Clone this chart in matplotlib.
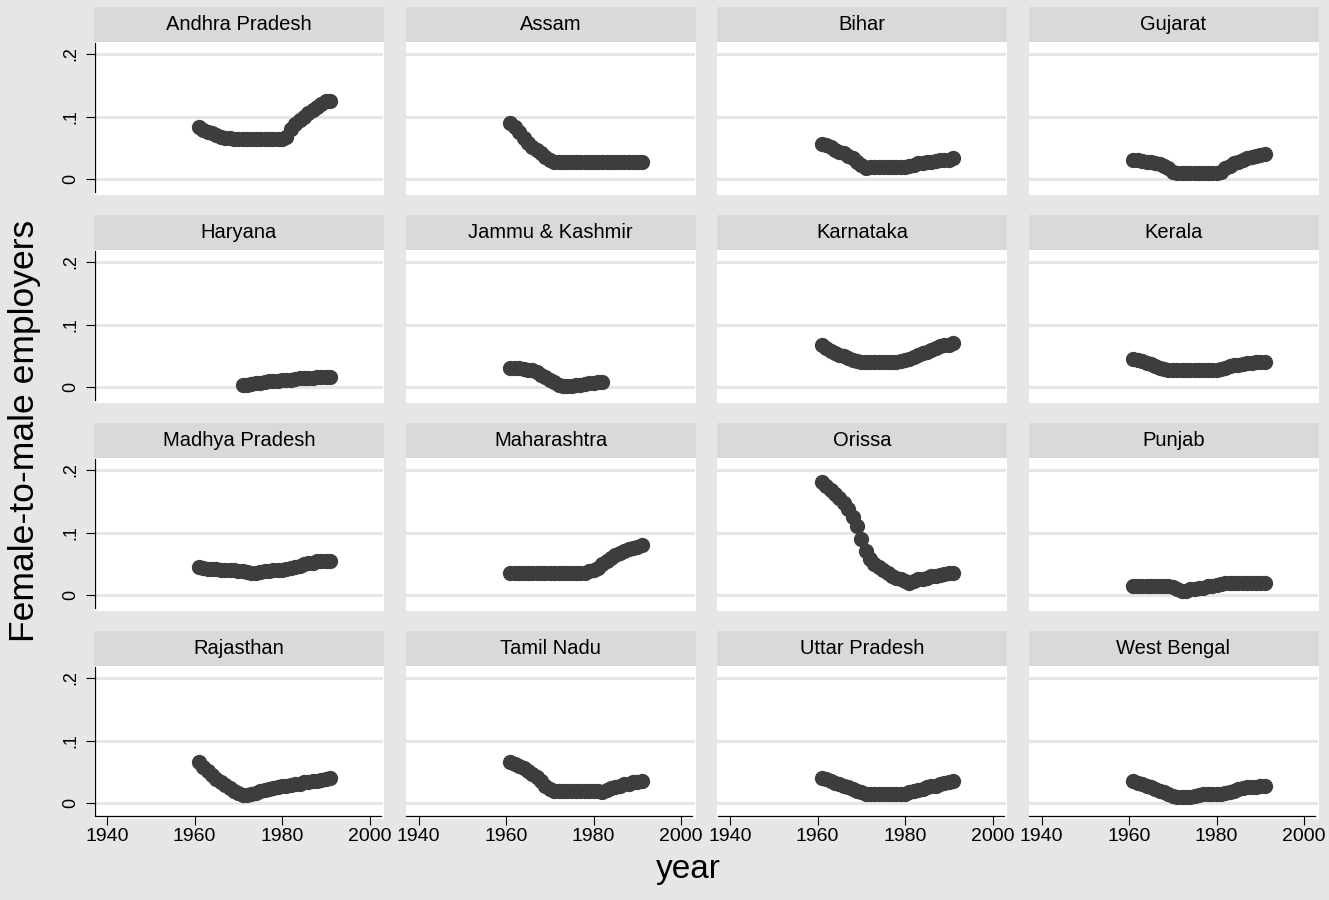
import matplotlib
matplotlib.use("Agg")
import matplotlib.pyplot as plt
from matplotlib.patches import Rectangle

plt.rcParams['font.family'] = ['Liberation Sans', 'DejaVu Sans']

states = ["Andhra Pradesh", "Assam", "Bihar", "Gujarat",
          "Haryana", "Jammu & Kashmir", "Karnataka", "Kerala",
          "Madhya Pradesh", "Maharashtra", "Orissa", "Punjab",
          "Rajasthan", "Tamil Nadu", "Uttar Pradesh", "West Bengal"]

years_full = list(range(1961, 1992))
years_haryana = list(range(1971, 1992))
years_jk = list(range(1961, 1983))

andhra = [.083, .079, .076, .073, .071, .068, .066, .065, .064, .064,
          .064, .064, .064, .064, .064, .064, .064, .064, .064, .064,
          .068, .080, .088, .094, .100, .105, .110, .116, .120, .125, .125]
assam = [.090, .084, .076, .066, .058, .052, .046, .041, .036, .031,
         .027, .027, .027, .027, .027, .027, .027, .027, .027, .027,
         .027, .027, .027, .027, .027, .027, .027, .027, .027, .027, .027]
bihar = [.056, .054, .051, .047, .044, .041, .037, .033, .028, .022,
         .018, .019, .020, .020, .020, .020, .020, .020, .020, .020,
         .021, .023, .025, .026, .027, .028, .029, .030, .030, .031, .033]
gujarat = [.030, .030, .029, .028, .027, .025, .024, .021, .017, .012,
           .009, .009, .009, .009, .009, .009, .009, .009, .009, .009,
           .012, .017, .021, .025, .028, .031, .033, .035, .037, .039, .040]
haryana = [.003, .004, .005, .006, .007, .008, .009, .010, .010, .011,
           .011, .012, .013, .014, .015, .015, .015, .016, .016, .016, .016]
jammu_kashmir = [.031, .030, .030, .029, .028, .027, .024, .020, .016, .012,
                 .008, .004, .002, .002, .002, .003, .004, .005, .006, .007,
                 .008, .008]
karnataka = [.067, .062, .058, .055, .052, .049, .046, .043, .041, .040,
             .040, .040, .040, .040, .040, .040, .040, .040, .041, .043,
             .045, .048, .051, .054, .056, .059, .062, .065, .067, .068, .070]
kerala = [.045, .043, .041, .039, .037, .034, .031, .029, .028, .027,
          .027, .027, .027, .027, .027, .027, .027, .027, .027, .027,
          .029, .031, .033, .035, .036, .037, .038, .039, .040, .040, .040]
madhya_pradesh = [.045, .043, .042, .041, .041, .040, .040, .040, .040, .039,
                  .038, .037, .036, .036, .037, .038, .039, .040, .040, .040,
                  .041, .043, .045, .047, .049, .051, .052, .054, .055, .055, .055]
maharashtra = [.035, .035, .035, .035, .035, .035, .035, .035, .035, .035,
               .035, .035, .035, .035, .035, .035, .035, .036, .038, .040,
               .044, .050, .055, .060, .064, .068, .070, .073, .075, .077, .080]
orissa = [.180, .175, .168, .162, .155, .147, .138, .125, .110, .090,
          .070, .058, .050, .045, .040, .035, .031, .028, .025, .022,
          .020, .022, .025, .026, .028, .030, .031, .032, .034, .035, .035]
punjab = [.015, .015, .015, .015, .015, .015, .015, .015, .015, .013,
          .009, .006, .007, .009, .010, .011, .012, .014, .015, .016,
          .018, .019, .020, .020, .020, .020, .020, .020, .020, .020, .020]
rajasthan = [.066, .058, .051, .045, .039, .034, .029, .024, .020, .016,
             .013, .013, .014, .016, .019, .021, .022, .024, .025, .027,
             .028, .029, .030, .031, .033, .034, .035, .036, .037, .038, .040]
tamil_nadu = [.066, .063, .060, .056, .052, .047, .042, .036, .028, .023,
              .020, .020, .020, .020, .020, .020, .020, .020, .020, .020,
              .019, .018, .021, .024, .026, .028, .030, .031, .033, .034, .035]
uttar_pradesh = [.040, .038, .035, .032, .030, .028, .025, .022, .020, .018,
                 .015, .015, .015, .015, .015, .015, .015, .015, .015, .015,
                 .017, .019, .021, .023, .025, .027, .028, .030, .032, .034, .035]
west_bengal = [.035, .032, .030, .027, .025, .022, .020, .017, .015, .012,
               .010, .010, .010, .010, .011, .013, .015, .015, .015, .015,
               .015, .016, .018, .020, .022, .024, .025, .025, .026, .027, .028]

series = [
    (years_full, andhra), (years_full, assam), (years_full, bihar), (years_full, gujarat),
    (years_haryana, haryana), (years_jk, jammu_kashmir), (years_full, karnataka), (years_full, kerala),
    (years_full, madhya_pradesh), (years_full, maharashtra), (years_full, orissa), (years_full, punjab),
    (years_full, rajasthan), (years_full, tamil_nadu), (years_full, uttar_pradesh), (years_full, west_bengal),
]

x_ticks = [1940, 1960, 1980, 2000]
x_tick_labels = ["1940", "1960", "1980", "2000"]
y_ticks = [0, 0.1, 0.2]
y_tick_labels = ["0", ".1", ".2"]

W, H = 1329, 900
BG = '#e6e6e6'
STRIP = '#d9d9d9'
GRID = '#e6e6e6'
DOT = '#3d3d3d'

fig = plt.figure(figsize=(W / 100, H / 100), dpi=100)
fig.patch.set_facecolor(BG)

pxyr = 4.375
xlim = (1940 - 13 / pxyr, 1940 + 277 / pxyr)
ylim = (-16 / 625, 137 / 625)
x_axis_y = -13 / 625
y_axis_x = 1940 - 12 / pxyr

for i, name in enumerate(states):
    r, c = divmod(i, 4)
    left = 94 + 311.5 * c
    top = 42 + 208 * r
    ax = fig.add_axes([left / W, 1 - (top + 153) / H, 290 / W, 153 / H])
    ax.set_facecolor('white')
    ax.set_xlim(*xlim)
    ax.set_ylim(*ylim)
    for s in ax.spines.values():
        s.set_visible(False)
    for yv in y_ticks:
        ax.axhline(yv, xmin=0.004, xmax=0.99, color=GRID, lw=2.2, zorder=1)
    yrs, vals = series[i]
    ax.plot(yrs, vals, 'o', ms=11, color=DOT, mec=DOT, mew=0, zorder=3)

    if c == 0:
        ax.spines['left'].set_visible(True)
        ax.spines['left'].set_position(('data', y_axis_x))
        ax.spines['left'].set_bounds(x_axis_y, 0.2176)
        ax.spines['left'].set_linewidth(0.9)
        ax.set_yticks(y_ticks)
        ax.set_yticklabels(y_tick_labels, rotation=90, va='center')
        ax.tick_params(axis='y', direction='out', length=6.5, width=0.8, pad=5, labelsize=13)
    else:
        ax.set_yticks([])
    if r == 3:
        ax.spines['bottom'].set_visible(True)
        ax.spines['bottom'].set_position(('data', x_axis_y))
        ax.spines['bottom'].set_bounds(y_axis_x, 2002.6)
        ax.spines['bottom'].set_linewidth(0.9)
        ax.set_xticks(x_ticks)
        ax.set_xticklabels(x_tick_labels)
        ax.tick_params(axis='x', direction='out', length=6.5, width=0.8, pad=2, labelsize=14)
    else:
        ax.set_xticks([])

    strip_top = 7 + 208 * r
    fig.add_artist(Rectangle((left / W, 1 - (strip_top + 35) / H), 290 / W, 35 / H,
                             transform=fig.transFigure, facecolor=STRIP, edgecolor='none'))
    fig.text((left + 145) / W, 1 - (strip_top + 18) / H, name, ha='center', va='center',
             fontsize=14.5, color='black')

fig.text(25 / W, 1 - 431 / H, 'Female-to-male employers', rotation=90,
         ha='center', va='center', fontsize=25.5)
fig.text(688 / W, 1 - 878 / H, 'year', ha='center', va='baseline', fontsize=24)

fig.savefig('out.png', dpi=100, facecolor=BG)
